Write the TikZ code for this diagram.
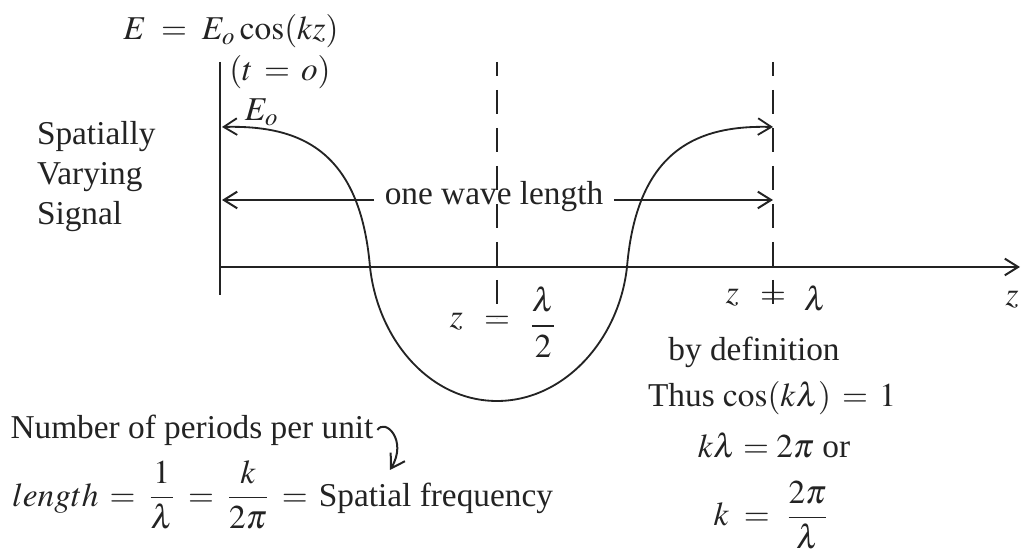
\documentclass[tikz,border=0pt]{standalone}
\usepackage{mathptmx}
\usepackage[no-math]{fontspec}
\setmainfont{Liberation Serif}
\usepackage{tikz}
\usetikzlibrary{arrows.meta,positioning}
\definecolor{ink}{RGB}{35,35,35}
\tikzset{
  axis/.style={line width=0.6pt,draw=ink},
  wave/.style={line width=0.55pt,draw=ink},
  guide/.style={line width=0.6pt,draw=ink,dash pattern=on 7.2pt off 4.2pt,dash phase=3pt},
  tip/.style={-{Straight Barb[length=4pt,width=5pt]},line width=0.6pt,draw=ink},
  bothtip/.style={{Straight Barb[length=4pt,width=5pt]}-{Straight Barb[length=4pt,width=5pt]}},
  lbl/.style={text=ink,inner sep=1pt}
}

\begin{document}
\begin{tikzpicture}[x=0.3pt,y=-0.3pt]
  \useasboundingbox (0,0) rectangle (1022,551);
  % axes and guides
  \coordinate (O) at (220,267);
  \coordinate (zend) at (1020,267);
  \draw[axis] (220,62) -- (220,295);
  \draw[tip] (O) -- (zend);
  \draw[guide] (497,62) -- (497,318);
  \draw[guide] (773,62) -- (773,306);
  % one period of the cosine
  \draw[wave,bothtip] (222,127) .. controls (300,125) and (360,150) .. (370,267)
    .. controls (378,340) and (430,401) .. (497,401)
    .. controls (564,401) and (619,340) .. (627,267)
    .. controls (637,150) and (697,125) .. (773,127);
  \node[lbl] (efield) at (231,31) {$E \;=\; E_o\cos(kz)$};
  \node[lbl] (tzero) at (280,72) {$(t \,=\, o)$};
  \node[lbl] (amp) at (262,112) {$E_o$};
  \node[lbl,align=left,anchor=west] (sig) at (33,177) {Spatially\\Varying\\Signal};
  \node[lbl,inner sep=3pt] (wl) at (494,197) {one wave length};
  \coordinate (wlL) at (222,200);
  \coordinate (wlR) at (773,200);
  \draw[tip] (wl.west |- wlL) -- (wlL);
  \draw[tip] (wl.east |- wlR) -- (wlR);
  % marks on the z axis
  \node[lbl] (halfeq) at (497,322) {$=$};
  \node[lbl,left=4pt of halfeq] (halfz) {$z$};
  \node[lbl,right=3pt of halfeq] (halffrac) {$\displaystyle\frac{\lambda}{2}$};
  \node[lbl] (fulleq) at (773,298) {$=$};
  \node[lbl,left=4pt of fulleq] (fullz) {$z$};
  \node[lbl,right=3pt of fulleq] (fulllam) {$\lambda$};
  \node[lbl] (zlab) at (1012,300) {$z$};
  \node[lbl] (bydef) at (754,352) {by definition};
  \node[lbl] (thus) at (772,398) {Thus $\cos(k\lambda) \,=\, 1$};
  \node[lbl] (klam) at (774,445) {$k\lambda = 2\pi$ or};
  \node[lbl] (kdef) at (772,515) {$k \;=\; \displaystyle\frac{2\pi}{\lambda}$};
  % spatial frequency
  \node[lbl] (num) at (192,430) {Number of periods per unit};
  \node[lbl,anchor=west] (freq) at (8,495) {$length \,=\, \displaystyle\frac{1}{\lambda} \,=\, \frac{k}{2\pi} \,=\, {}$Spatial frequency};
  \coordinate (sf) at (390,470);
  \draw[tip] (num.east) .. controls (385,418) and (408,440) .. (sf);
\end{tikzpicture}
\end{document}
